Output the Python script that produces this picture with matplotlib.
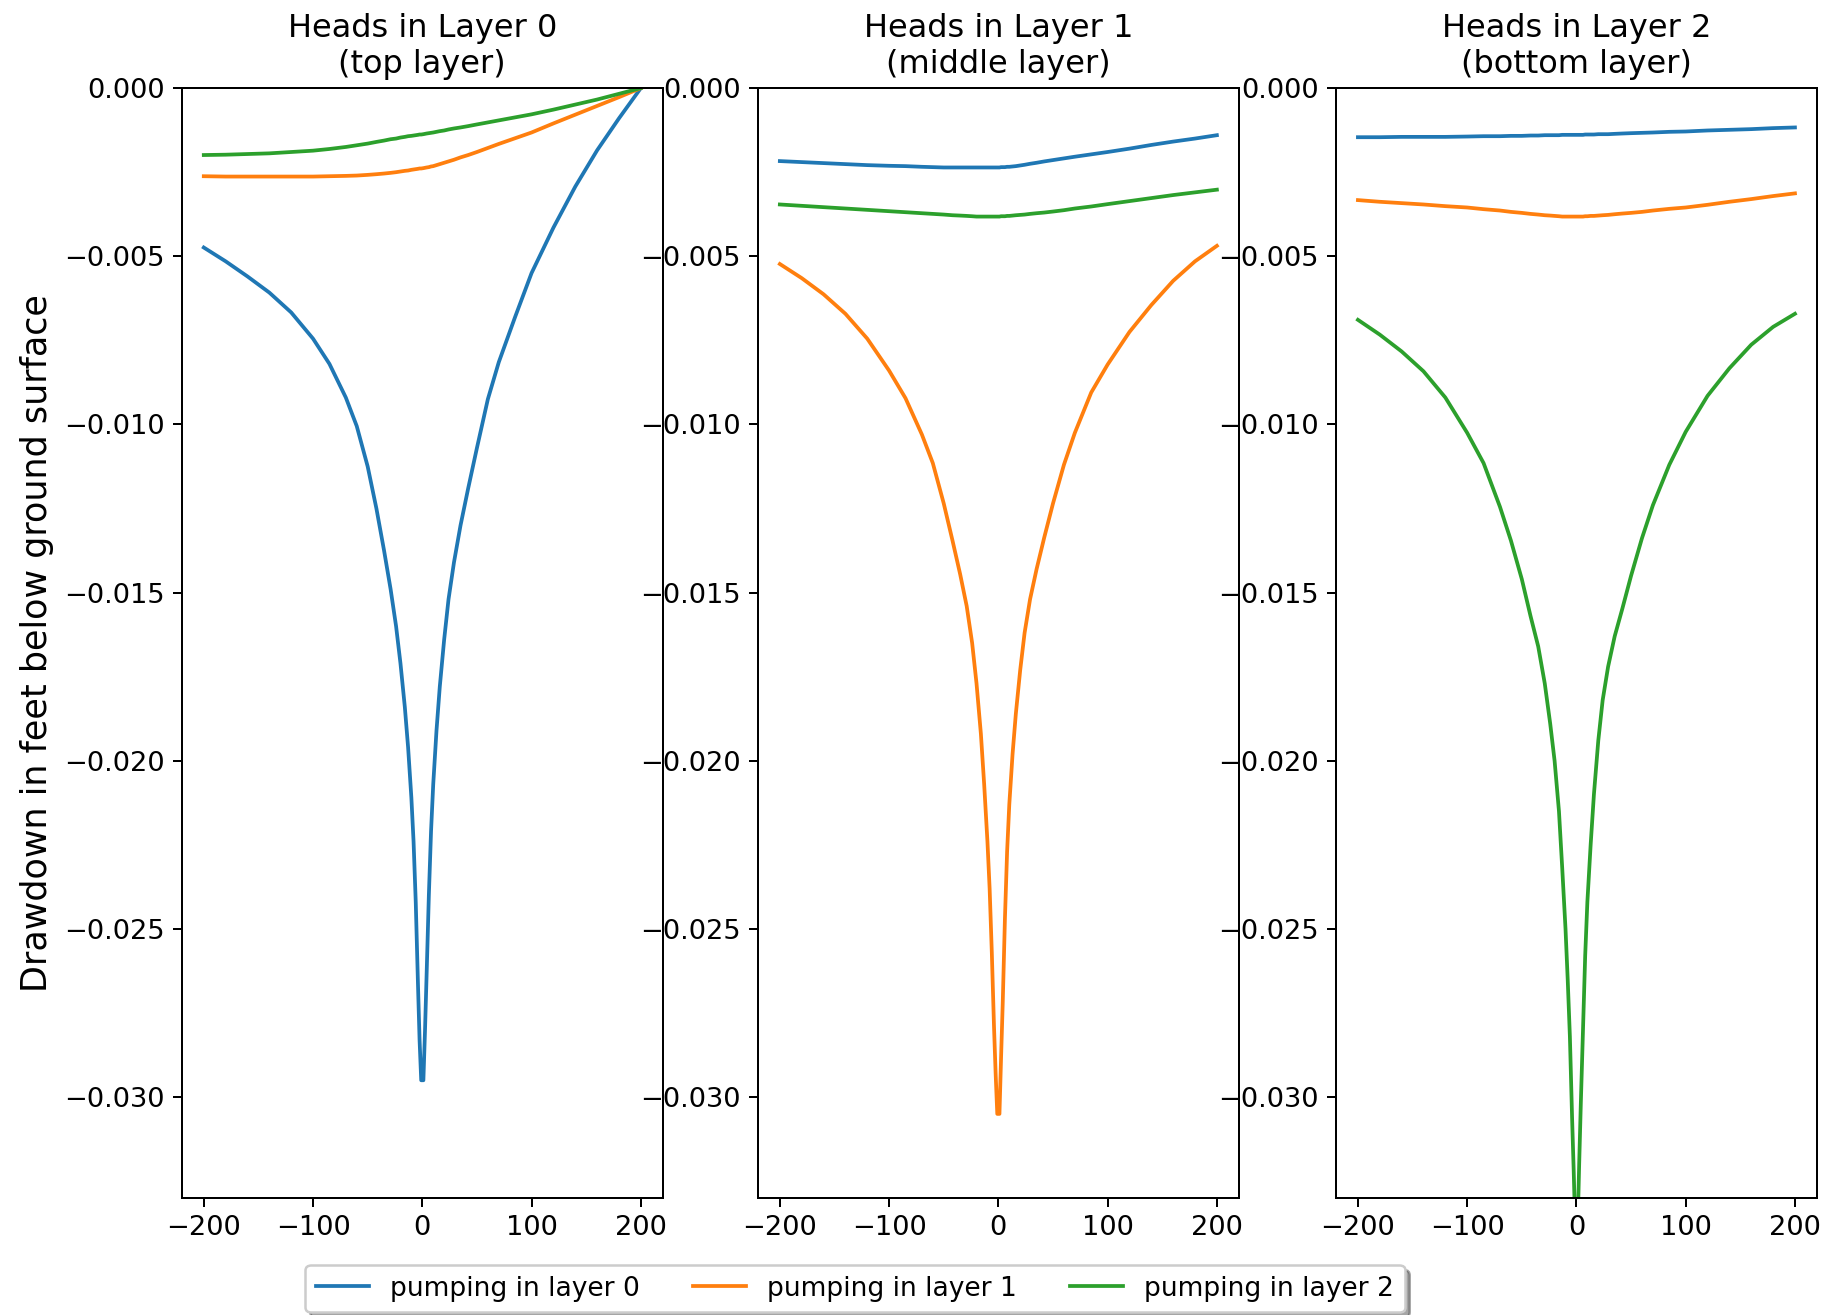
import matplotlib
matplotlib.use("Agg")
import matplotlib.pyplot as plt

# distance from the well (ft), shared by all curves
x = [-200, -180, -160, -140, -120, -100, -85, -70, -60, -50, -42, -35, -29, -24, -20, -16,
     -13, -10, -8, -6, -4, -2.5, -1,
     1, 2.5, 4, 6, 8, 10, 13, 16, 20, 24, 29, 35, 42, 50, 60, 70, 85, 100, 120, 140,
     160, 180, 200]

# Layer 0 (top layer)
l0_pump0 = [-0.00474, -0.00515, -0.00560, -0.00608, -0.00667, -0.00745, -0.00820, -0.00920,
            -0.01005, -0.01125, -0.01250, -0.01375, -0.01490, -0.01600, -0.01710, -0.01840,
            -0.01960, -0.02110, -0.02240, -0.02420, -0.02660, -0.02830, -0.02950,
            -0.02950, -0.02800, -0.02630, -0.02400, -0.02210, -0.02070, -0.01910, -0.01780,
            -0.01640, -0.01520, -0.01410, -0.01300, -0.01190, -0.01070, -0.00925, -0.00815,
            -0.00680, -0.00550, -0.00415, -0.00293, -0.00185, -0.00090, 0.0]
l0_pump1 = [-0.00262, -0.00263, -0.00263, -0.00263, -0.00263, -0.00263, -0.00262, -0.00261,
            -0.00260, -0.00258, -0.00256, -0.00254, -0.00252, -0.00250, -0.00248, -0.00246,
            -0.00245, -0.00243, -0.00242, -0.00241, -0.00240, -0.00239, -0.00239,
            -0.00238, -0.00237, -0.00236, -0.00235, -0.00233, -0.00232, -0.00229, -0.00226,
            -0.00222, -0.00218, -0.00213, -0.00206, -0.00199, -0.00190, -0.00178, -0.00166,
            -0.00149, -0.00132, -0.00105, -0.00079, -0.00053, -0.00027, 0.0]
l0_pump2 = [-0.00199, -0.00198, -0.00196, -0.00194, -0.00190, -0.00186, -0.00181, -0.00175,
            -0.00170, -0.00165, -0.00160, -0.00156, -0.00152, -0.00150, -0.00147, -0.00145,
            -0.00143, -0.00142, -0.00141, -0.00140, -0.00139, -0.00138, -0.00138,
            -0.00137, -0.00136, -0.00135, -0.00134, -0.00133, -0.00132, -0.00130, -0.00128,
            -0.00126, -0.00123, -0.00120, -0.00117, -0.00113, -0.00108, -0.00102, -0.00096,
            -0.00087, -0.00078, -0.00064, -0.00049, -0.00034, -0.00017, 0.0]

# Layer 1 (middle layer)
l1_pump0 = [-0.00217, -0.00220, -0.00223, -0.00226, -0.00229, -0.00231, -0.00232, -0.00234,
            -0.00235, -0.00236, -0.00236, -0.00236, -0.00236, -0.00236, -0.00236, -0.00236,
            -0.00236, -0.00236, -0.00236, -0.00236, -0.00236, -0.00236, -0.00236,
            -0.00236, -0.00235, -0.00235, -0.00235, -0.00234, -0.00234, -0.00233, -0.00232,
            -0.00230, -0.00228, -0.00225, -0.00222, -0.00218, -0.00214, -0.00209, -0.00204,
            -0.00197, -0.00190, -0.00180, -0.00169, -0.00159, -0.00150, -0.00140]
l1_pump1 = [-0.00523, -0.00565, -0.00613, -0.00671, -0.00745, -0.00840, -0.00922, -0.01030,
            -0.01115, -0.01235, -0.01345, -0.01445, -0.01540, -0.01650, -0.01770, -0.01920,
            -0.02070, -0.02240, -0.02380, -0.02570, -0.02790, -0.02930, -0.03050,
            -0.03050, -0.02880, -0.02720, -0.02470, -0.02270, -0.02130, -0.01980, -0.01860,
            -0.01730, -0.01620, -0.01520, -0.01430, -0.01336, -0.01235, -0.01120, -0.01025,
            -0.00905, -0.00822, -0.00725, -0.00645, -0.00573, -0.00515, -0.00469]
l1_pump2 = [-0.00346, -0.00350, -0.00354, -0.00358, -0.00362, -0.00366, -0.00369, -0.00372,
            -0.00374, -0.00376, -0.00378, -0.00379, -0.00380, -0.00381, -0.00382, -0.00382,
            -0.00382, -0.00382, -0.00382, -0.00382, -0.00382, -0.00382, -0.00382,
            -0.00382, -0.00381, -0.00381, -0.00381, -0.00380, -0.00380, -0.00379, -0.00378,
            -0.00377, -0.00376, -0.00374, -0.00372, -0.00370, -0.00367, -0.00363, -0.00358,
            -0.00352, -0.00345, -0.00336, -0.00327, -0.00318, -0.00310, -0.00302]

# Layer 2 (bottom layer)
l2_pump0 = [-0.00146, -0.00146, -0.00145, -0.00145, -0.00145, -0.00144, -0.00143, -0.00143,
            -0.00142, -0.00142, -0.00141, -0.00141, -0.00140, -0.00140, -0.00140, -0.00140,
            -0.00139, -0.00139, -0.00139, -0.00139, -0.00139, -0.00139, -0.00139,
            -0.00139, -0.00139, -0.00139, -0.00139, -0.00138, -0.00138, -0.00138, -0.00138,
            -0.00137, -0.00137, -0.00137, -0.00136, -0.00135, -0.00134, -0.00133, -0.00132,
            -0.00130, -0.00129, -0.00126, -0.00124, -0.00122, -0.00119, -0.00117]
l2_pump1 = [-0.00333, -0.00338, -0.00342, -0.00346, -0.00351, -0.00355, -0.00360, -0.00364,
            -0.00368, -0.00371, -0.00374, -0.00376, -0.00378, -0.00379, -0.00380, -0.00381,
            -0.00382, -0.00382, -0.00382, -0.00382, -0.00382, -0.00382, -0.00382,
            -0.00382, -0.00382, -0.00382, -0.00382, -0.00381, -0.00381, -0.00380, -0.00380,
            -0.00379, -0.00378, -0.00377, -0.00375, -0.00373, -0.00371, -0.00368, -0.00364,
            -0.00359, -0.00355, -0.00347, -0.00338, -0.00330, -0.00321, -0.00313]
l2_pump2 = [-0.00689, -0.00733, -0.00783, -0.00842, -0.00920, -0.01025, -0.01115, -0.01245,
            -0.01345, -0.01460, -0.01570, -0.01660, -0.01770, -0.01890, -0.02000, -0.02150,
            -0.02320, -0.02500, -0.02650, -0.02820, -0.03060, -0.03220, -0.03400,
            -0.03400, -0.03200, -0.03020, -0.02800, -0.02580, -0.02420, -0.02250, -0.02100,
            -0.01940, -0.01820, -0.01720, -0.01630, -0.01548, -0.01450, -0.01338, -0.01240,
            -0.01120, -0.01022, -0.00915, -0.00833, -0.00763, -0.00710, -0.00671]

titles = ["Heads in Layer 0\n(top layer)",
          "Heads in Layer 1\n(middle layer)",
          "Heads in Layer 2\n(bottom layer)"]
labels = ["pumping in layer 0", "pumping in layer 1", "pumping in layer 2"]
layers = [[l0_pump0, l0_pump1, l0_pump2],
          [l1_pump0, l1_pump1, l1_pump2],
          [l2_pump0, l2_pump1, l2_pump2]]

dpi = 180
fig = plt.figure(figsize=(1823 / dpi, 1315 / dpi), dpi=dpi)

lefts = [0.0998, 0.4158, 0.7329]
width = 0.2637
bottom, height = 0.089, 0.844

axes = []
for i, left in enumerate(lefts):
    ax = fig.add_axes([left, bottom, width, height])
    for series, lab in zip(layers[i], labels):
        ax.plot(x, series, label=lab)
    ax.set_ylim(-0.033, 0.0)
    ax.set_xlim(-220, 220)
    ax.set_xticks([-200, -100, 0, 100, 200])
    ax.tick_params(labelsize=10.9)
    ax.set_title(titles[i], fontsize=12.8)
    axes.append(ax)

axes[0].set_ylabel("Drawdown in feet below ground surface", fontsize=14)

handles, labs = axes[0].get_legend_handles_labels()
fig.legend(handles, labs, loc="lower center", ncol=3, bbox_to_anchor=(0.469, 0.0),
           shadow=True, borderaxespad=0.1, fontsize=10.6)

fig.savefig("out.png", dpi=dpi)
